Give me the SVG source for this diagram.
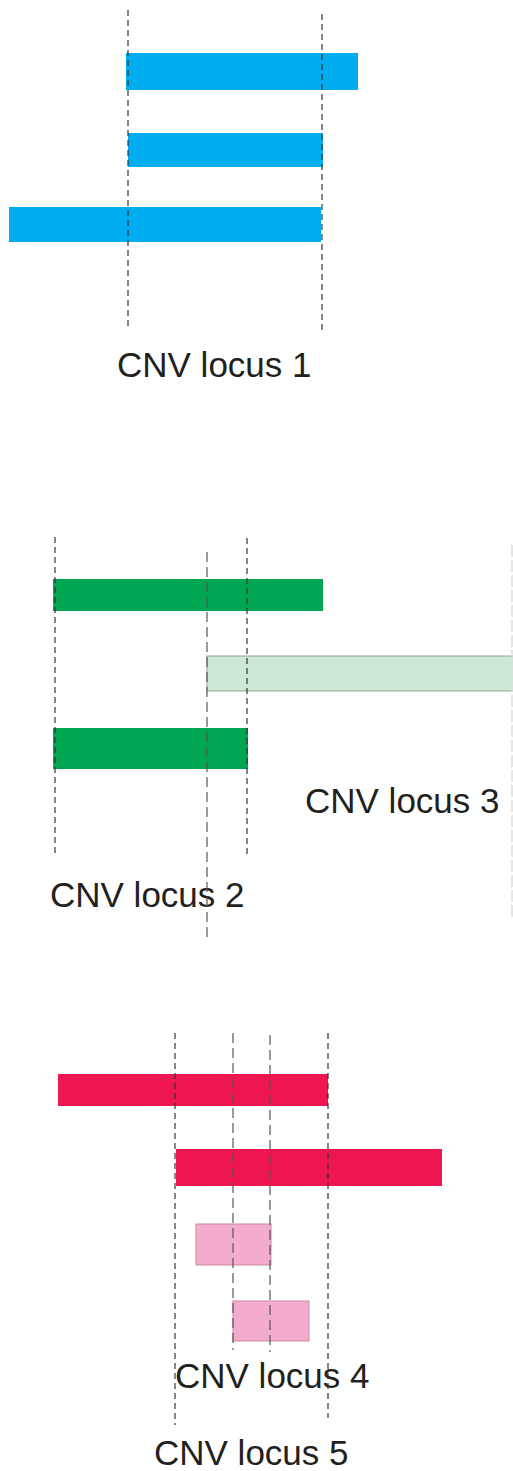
<svg xmlns="http://www.w3.org/2000/svg" width="513" height="1471" viewBox="0 0 513 1471">
<style>
.dash{stroke:#333;stroke-width:1.2;stroke-dasharray:6 4;fill:none}
.dash2{stroke:#555;stroke-width:1.2;stroke-dasharray:10 5;fill:none}
.blue{fill:#00AEEF}
.green{fill:#00A651}
.lgreen{fill:#CCE8D6;stroke:#8FA898;stroke-width:1}
.red{fill:#ED1651}
.pink{fill:#F4ACCD;stroke:#C98AA5;stroke-width:1}
.lbl{font-family:"Liberation Sans",Arial,sans-serif;font-size:35px;fill:#231F20}
</style>
<rect width="513" height="1471" fill="#fff"/>
<g id="locus1">
<rect class="blue" x="126" y="53" width="232" height="37"/>
<rect class="blue" x="128" y="133" width="195" height="34"/>
<rect class="blue" x="9" y="207" width="312" height="35"/>
<text class="lbl" x="117" y="377">CNV locus 1</text>
</g>
<g id="locus2">
<rect class="green" x="53" y="579" width="270" height="32"/>
<rect class="green" x="53" y="728" width="195" height="41"/>
<text class="lbl" x="50" y="907">CNV locus 2</text>
</g>
<g id="locus3">
<rect class="lgreen" x="207" y="656" width="310" height="35"/>
<text class="lbl" x="305" y="813">CNV locus 3</text>
</g>
<g id="locus4">
<rect class="red" x="58" y="1074" width="270" height="32"/>
<rect class="red" x="176" y="1149" width="266" height="37"/>
<rect class="pink" x="196" y="1224" width="75" height="41"/>
<rect class="pink" x="233" y="1301" width="76" height="40"/>
<text class="lbl" x="175" y="1388">CNV locus 4</text>
</g>
<g id="locus5">
<text class="lbl" x="154" y="1465">CNV locus 5</text>
</g>
<g id="connectors">
<line class="dash" x1="128" y1="10" x2="128" y2="327"/>
<line class="dash" x1="322" y1="14" x2="322" y2="331"/>
<line class="dash" x1="55" y1="537" x2="55" y2="853"/>
<line class="dash2" x1="207" y1="552" x2="207" y2="937"/>
<line class="dash" x1="247" y1="538" x2="247" y2="855"/>
<line stroke="#ddd" stroke-width="1.5" stroke-dasharray="12 3" x1="512" y1="545" x2="512" y2="920"/>
<line class="dash" x1="175" y1="1033" x2="175" y2="1425"/>
<line class="dash2" x1="233" y1="1033" x2="233" y2="1350"/>
<line class="dash2" x1="270" y1="1035" x2="270" y2="1352"/>
<line class="dash" x1="328" y1="1033" x2="328" y2="1418"/>
</g>
</svg>
